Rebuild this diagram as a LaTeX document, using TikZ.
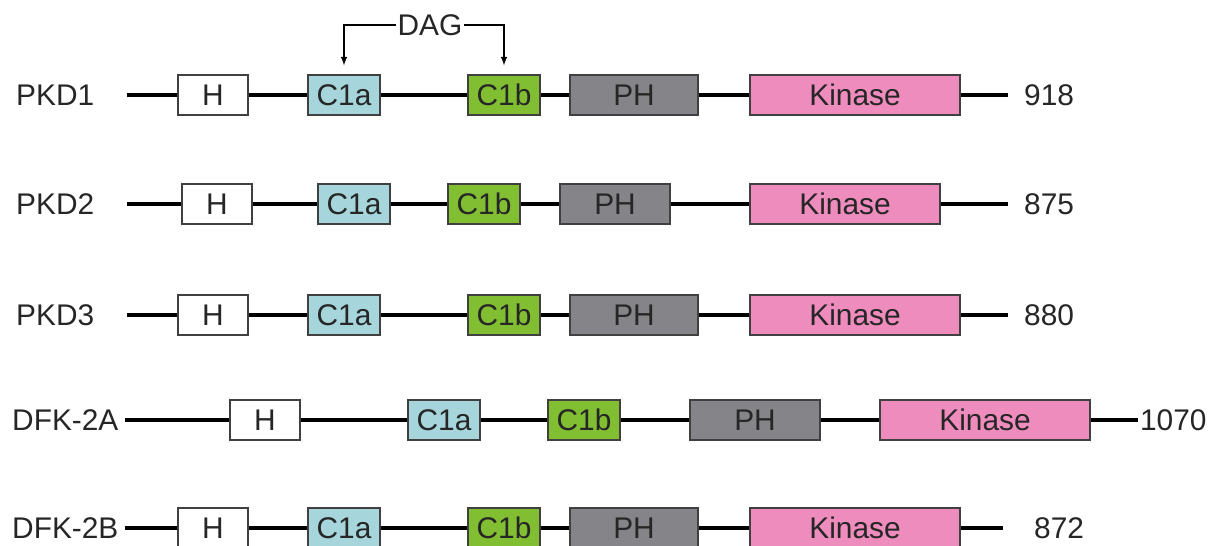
\documentclass[tikz,border=0pt]{standalone}
\usepackage{fontspec}
\setmainfont{Liberation Sans}
\usepackage{xcolor}
\usetikzlibrary{positioning,arrows}

\definecolor{c1acol}{RGB}{166,214,220}
\definecolor{c1bcol}{RGB}{130,190,50}
\definecolor{phcol}{RGB}{132,132,137}
\definecolor{kincol}{RGB}{238,140,190}

\tikzset{
  every node/.style={font=\fontsize{17}{19}\selectfont, text=black!85},
  dom/.style={draw=black!75, line width=0.7pt, minimum height=0.8cm, inner sep=0pt},
  hbox/.style={dom, fill=white, minimum width=1.4cm},
  cabox/.style={dom, fill=c1acol, minimum width=1.44cm},
  cbbox/.style={dom, fill=c1bcol, minimum width=1.44cm},
  phbox/.style={dom, fill=phcol},
  kinbox/.style={dom, fill=kincol},
  backbone/.style={line width=2.8pt, black}
}

\begin{document}
\begin{tikzpicture}[x=0.02cm, y=-0.02cm]
\useasboundingbox (0,0) rectangle (1219,546);
% PKD1
\node[anchor=west] (n1) at (10,95) {PKD1};
\coordinate (s1) at (127,95);
\coordinate (e1) at (1008,95);
\node[hbox] (h1) at (213,95) {H};
\node[cabox] (ca1) at (344,95) {C1a};
\node[cbbox] (cb1) at (504,95) {C1b};
\node[phbox, minimum width=2.56cm] (ph1) at (634,95) {PH};
\node[kinbox, minimum width=4.2cm] (k1) at (855,95) {Kinase};
\node[anchor=west] (l1) at (1018,95) {918};
\draw[backbone] (s1) -- (h1) -- (ca1) -- (cb1) -- (ph1) -- (k1) -- (e1);
% DAG
\node[inner sep=1pt] (dag) at (430,25) {DAG};
\draw[-latex, line width=0.7pt, shorten >=0.18cm] (dag.west) -| (ca1.north);
\draw[-latex, line width=0.7pt, shorten >=0.18cm] (dag.east) -| (cb1.north);
% PKD2
\node[anchor=west] (n2) at (10,204) {PKD2};
\coordinate (s2) at (127,204);
\coordinate (e2) at (1008,204);
\node[hbox] (h2) at (217,204) {H};
\node[cabox] (ca2) at (354,204) {C1a};
\node[cbbox] (cb2) at (484,204) {C1b};
\node[phbox, minimum width=2.2cm] (ph2) at (615,204) {PH};
\node[kinbox, minimum width=3.8cm] (k2) at (845,204) {Kinase};
\node[anchor=west] (l2) at (1018,204) {875};
\draw[backbone] (s2) -- (h2) -- (ca2) -- (cb2) -- (ph2) -- (k2) -- (e2);
% PKD3
\node[anchor=west] (n3) at (10,315) {PKD3};
\coordinate (s3) at (127,315);
\coordinate (e3) at (1008,315);
\node[hbox] (h3) at (213,315) {H};
\node[cabox] (ca3) at (344,315) {C1a};
\node[cbbox] (cb3) at (504,315) {C1b};
\node[phbox, minimum width=2.56cm] (ph3) at (634,315) {PH};
\node[kinbox, minimum width=4.2cm] (k3) at (855,315) {Kinase};
\node[anchor=west] (l3) at (1018,315) {880};
\draw[backbone] (s3) -- (h3) -- (ca3) -- (cb3) -- (ph3) -- (k3) -- (e3);
% DFK-2A
\node[anchor=west] (n4) at (6,420) {DFK-2A};
\coordinate (e4) at (1138,420);
\node[hbox] (h4) at (265,420) {H};
\node[cabox] (ca4) at (444,420) {C1a};
\node[cbbox] (cb4) at (584,420) {C1b};
\node[phbox, minimum width=2.6cm] (ph4) at (755,420) {PH};
\node[kinbox, minimum width=4.2cm] (k4) at (985,420) {Kinase};
\node[anchor=west, inner sep=1pt] (l4) at (1138,420) {1070};
\draw[backbone] (n4) -- (h4) -- (ca4) -- (cb4) -- (ph4) -- (k4) -- (e4);
% DFK-2B
\node[anchor=west] (n5) at (6,528) {DFK-2B};
\coordinate (e5) at (1003,528);
\node[hbox] (h5) at (213,528) {H};
\node[cabox] (ca5) at (344,528) {C1a};
\node[cbbox] (cb5) at (504,528) {C1b};
\node[phbox, minimum width=2.56cm] (ph5) at (634,528) {PH};
\node[kinbox, minimum width=4.2cm] (k5) at (855,528) {Kinase};
\node[anchor=west] (l5) at (1028,528) {872};
\draw[backbone] (n5) -- (h5) -- (ca5) -- (cb5) -- (ph5) -- (k5) -- (e5);
\end{tikzpicture}
\end{document}
